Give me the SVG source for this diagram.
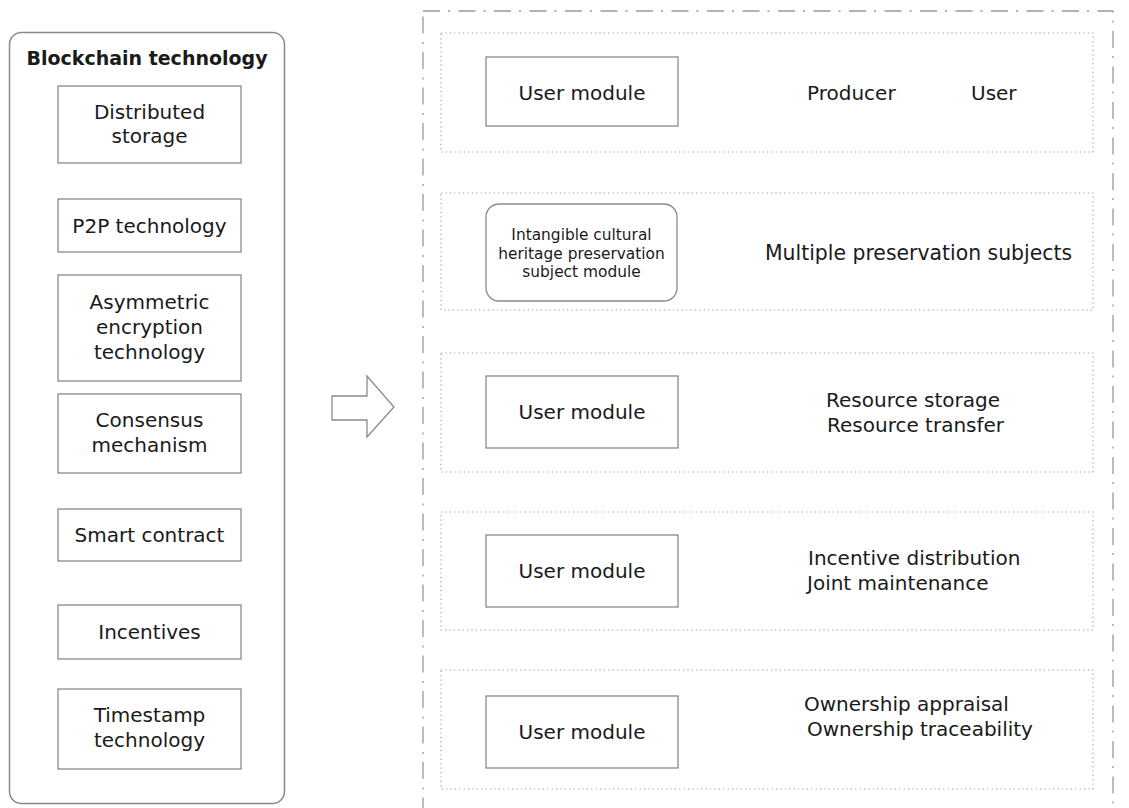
<svg xmlns="http://www.w3.org/2000/svg" width="1129" height="808" viewBox="0 0 1129 808">
<style>
text{font-family:"DejaVu Sans","Liberation Sans",sans-serif;fill:#1a1a1a;font-size:20px}
.c{text-anchor:middle}
.box{fill:#fff;stroke:#8a8a8a;stroke-width:1.3}
.dot{fill:none;stroke:#999;stroke-width:1.1;stroke-dasharray:1.2 3.2}
.dd{fill:none;stroke:#999;stroke-width:1.3;stroke-dasharray:17 8 2 8.5}
.sm{font-size:15.4px}
</style>
<rect width="1129" height="808" fill="#fff"/>
<g id="blockchain">
<rect x="9.5" y="32.5" width="275" height="771" rx="12" fill="#fff" stroke="#8a8a8a" stroke-width="1.5"/>
<text class="c" x="147" y="65" style="font-weight:bold;font-size:19px">Blockchain technology</text>
</g>
<g id="distributed"><rect class="box" x="58" y="86" width="183" height="77"/><text class="c" x="149.5" y="119">Distributed</text><text class="c" x="149.5" y="143">storage</text></g>
<g id="p2p"><rect class="box" x="58" y="199" width="183" height="53"/><text class="c" x="149.5" y="233">P2P technology</text></g>
<g id="asym"><rect class="box" x="58" y="275" width="183" height="106"/><text class="c" x="149.5" y="309">Asymmetric</text><text class="c" x="149.5" y="334">encryption</text><text class="c" x="149.5" y="359">technology</text></g>
<g id="consensus"><rect class="box" x="58" y="394" width="183" height="79"/><text class="c" x="149.5" y="427">Consensus</text><text class="c" x="149.5" y="452">mechanism</text></g>
<g id="smart"><rect class="box" x="58" y="509" width="183" height="52"/><text class="c" x="149.5" y="542">Smart contract</text></g>
<g id="incentives"><rect class="box" x="58" y="605" width="183" height="54"/><text class="c" x="149.5" y="639">Incentives</text></g>
<g id="timestamp"><rect class="box" x="58" y="689" width="183" height="80"/><text class="c" x="149.5" y="722">Timestamp</text><text class="c" x="149.5" y="747">technology</text></g>
<g id="connectors">
<polygon points="332,396 367,396 367,376 394,407 367,437 367,420 332,420" fill="#fff" stroke="#8a8a8a" stroke-width="1.3"/>
</g>
<g id="platform">
<rect class="dd" x="423" y="11" width="690" height="830"/>
</g>
<g id="row1">
<rect class="dot" x="441" y="33" width="652" height="119"/>
<rect class="box" x="486" y="57" width="192" height="69"/>
<text class="c" x="582" y="100">User module</text>
<text x="807" y="100">Producer</text>
<text x="971" y="100">User</text>
</g>
<g id="row2">
<rect class="dot" x="441" y="193" width="652" height="117"/>
<rect class="box" x="486" y="204" width="191" height="97" rx="13"/>
<text class="c sm" x="581.5" y="240">Intangible cultural</text>
<text class="c sm" x="581.5" y="258.5">heritage preservation</text>
<text class="c sm" x="581.5" y="277">subject module</text>
<text x="765" y="260" style="font-size:20.4px">Multiple preservation subjects</text>
</g>
<g id="row3">
<rect class="dot" x="441" y="353" width="652" height="119"/>
<rect class="box" x="486" y="376" width="192" height="72"/>
<text class="c" x="582" y="419">User module</text>
<text x="826" y="407">Resource storage</text>
<text x="827" y="432">Resource transfer</text>
</g>
<g id="row4">
<rect class="dot" x="441" y="512" width="652" height="118"/>
<rect class="box" x="486" y="535" width="192" height="72"/>
<text class="c" x="582" y="578">User module</text>
<text x="808" y="565">Incentive distribution</text>
<text x="807" y="590">Joint maintenance</text>
</g>
<g id="row5">
<rect class="dot" x="441" y="670" width="652" height="119"/>
<rect class="box" x="486" y="696" width="192" height="72"/>
<text class="c" x="582" y="739">User module</text>
<text x="804" y="711">Ownership appraisal</text>
<text x="807" y="736">Ownership traceability</text>
</g>
</svg>
